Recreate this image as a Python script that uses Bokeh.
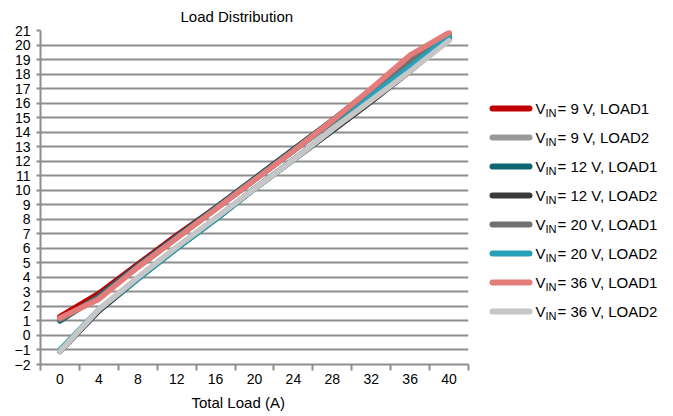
from bokeh.plotting import figure
from bokeh.layouts import row
from bokeh.models import FixedTicker, Range1d, Title
from bokeh.core.properties import value
from bokeh.embed import file_html
from bokeh.resources import INLINE

FONT = "Liberation Sans"

total_load = [0, 4, 8, 12, 16, 20, 24, 28, 32, 36, 40]
x_tick_labels = ["0", "4", "8", "12", "16", "20", "24", "28", "32", "36", "40"]
y_ticks = list(range(-2, 22))

vin_9_load1 = [1.3, 2.9, 4.9, 6.9, 8.8, 10.8, 12.8, 14.8, 16.9, 19.1, 20.8]
vin_9_load2 = [-1.1, 1.7, 3.9, 6.0, 8.0, 10.1, 12.1, 14.1, 16.1, 18.3, 20.4]
vin_12_load1 = [1.0, 2.7, 4.8, 6.8, 8.8, 10.8, 12.8, 14.8, 16.9, 19.0, 20.7]
vin_12_load2 = [-1.1, 1.7, 3.9, 6.0, 8.0, 10.1, 12.1, 14.1, 16.1, 18.2, 20.5]
vin_20_load1 = [1.1, 2.6, 4.7, 6.7, 8.7, 10.7, 12.7, 14.7, 16.8, 18.9, 20.7]
vin_20_load2 = [-1.0, 1.8, 3.9, 6.0, 8.0, 10.1, 12.1, 14.2, 16.5, 18.5, 20.6]
vin_36_load1 = [1.2, 2.5, 4.7, 6.7, 8.7, 10.7, 12.7, 14.8, 17.0, 19.3, 20.85]
vin_36_load2 = [-1.1, 1.8, 4.0, 6.1, 8.1, 10.1, 12.1, 14.2, 16.2, 18.2, 20.3]

series_vin = ["9", "9", "12", "12", "20", "20", "36", "36"]
series_load = ["LOAD1", "LOAD2", "LOAD1", "LOAD2", "LOAD1", "LOAD2", "LOAD1", "LOAD2"]
series_values = [vin_9_load1, vin_9_load2, vin_12_load1, vin_12_load2,
                 vin_20_load1, vin_20_load2, vin_36_load1, vin_36_load2]
series_colors = ["#c00000", "#999999", "#0e6673", "#3a3a3a",
                 "#707070", "#27a1b9", "#e57c7c", "#c6c6c6"]

GRID = "#8e8e8e"

p = figure(frame_width=428, frame_height=334, min_border_left=40, min_border_top=30,
           min_border_right=10, min_border_bottom=10,
           x_range=Range1d(-2, 42), y_range=Range1d(-2, 21),
           output_backend="svg", toolbar_location=None)
p.outline_line_color = None
p.background_fill_color = "white"
p.border_fill_color = "white"

p.title.text = "Load Distribution"
p.title.align = "left"
p.title.offset = 140
p.title.standoff = 11
p.title.text_font = FONT
p.title.text_font_size = "15px"
p.title.text_font_style = "normal"
p.title.text_color = "#000000"

xlab = Title(text="Total Load (A)", align="left", offset=151, standoff=10,
             text_font=FONT, text_font_size="15px", text_font_style="normal",
             text_color="#000000")
p.add_layout(xlab, "below")

xt = FixedTicker(ticks=total_load, minor_ticks=[t - 2 for t in total_load] + [42])
p.xaxis.ticker = xt
p.xaxis.major_label_overrides = {t: s for t, s in zip(total_load, x_tick_labels)}
p.xaxis.major_tick_out = 0
p.xaxis.major_tick_in = 0
p.xaxis.minor_tick_out = 6
p.xaxis.minor_tick_in = 0
p.xaxis.minor_tick_line_color = GRID
p.xaxis.minor_tick_line_width = 2
p.xaxis.major_label_standoff = 3

p.yaxis.ticker = FixedTicker(ticks=y_ticks, minor_ticks=[])
p.yaxis.major_tick_out = 4
p.yaxis.major_tick_in = 0
p.yaxis.major_tick_line_color = GRID
p.yaxis.major_tick_line_width = 2
p.yaxis.major_label_standoff = 6

for ax in (p.xaxis, p.yaxis):
    ax.axis_line_color = GRID
    ax.axis_line_width = 2
    ax.major_label_text_font = FONT
    ax.major_label_text_font_size = "14px"
    ax.major_label_text_color = "#000000"

p.xgrid.visible = False
p.ygrid.ticker = FixedTicker(ticks=y_ticks)
p.ygrid.grid_line_color = GRID
p.ygrid.grid_line_width = 2

for vals, col in zip(series_values, series_colors):
    p.line(total_load, vals, line_color=col, line_width=5.5, line_join="round", line_cap="round")

# legend panel: frame spans the same pixel rows as the main frame (30..364)
lg = figure(frame_width=195, frame_height=334, min_border_left=0, min_border_right=0,
            min_border_top=30, min_border_bottom=52,
            x_range=Range1d(0, 195), y_range=Range1d(364, 30),
            output_backend="svg", toolbar_location=None)
lg.axis.visible = False
lg.grid.visible = False
lg.outline_line_color = None

row0, step = 108, 29
for i, (vin, load, col) in enumerate(zip(series_vin, series_load, series_colors)):
    yy = row0 + i * step
    lg.line([14, 51], [yy, yy], line_color=col, line_width=6, line_cap="round")
    lg.text([57], [yy], text=["V"], text_font=value(FONT), text_font_size="15px",
            text_baseline="middle", text_align="left", text_color="#000000")
    lg.text([67], [yy + 4], text=["IN"], text_font=value(FONT), text_font_size="11px",
            text_baseline="middle", text_align="left", text_color="#000000")
    lg.text([79], [yy], text=[f"= {vin} V, {load}"], text_font=value(FONT), text_font_size="15px",
            text_baseline="middle", text_align="left", text_color="#000000")

layout = row(p, lg, spacing=0)
open("out.html", "w").write(file_html(layout, INLINE))
